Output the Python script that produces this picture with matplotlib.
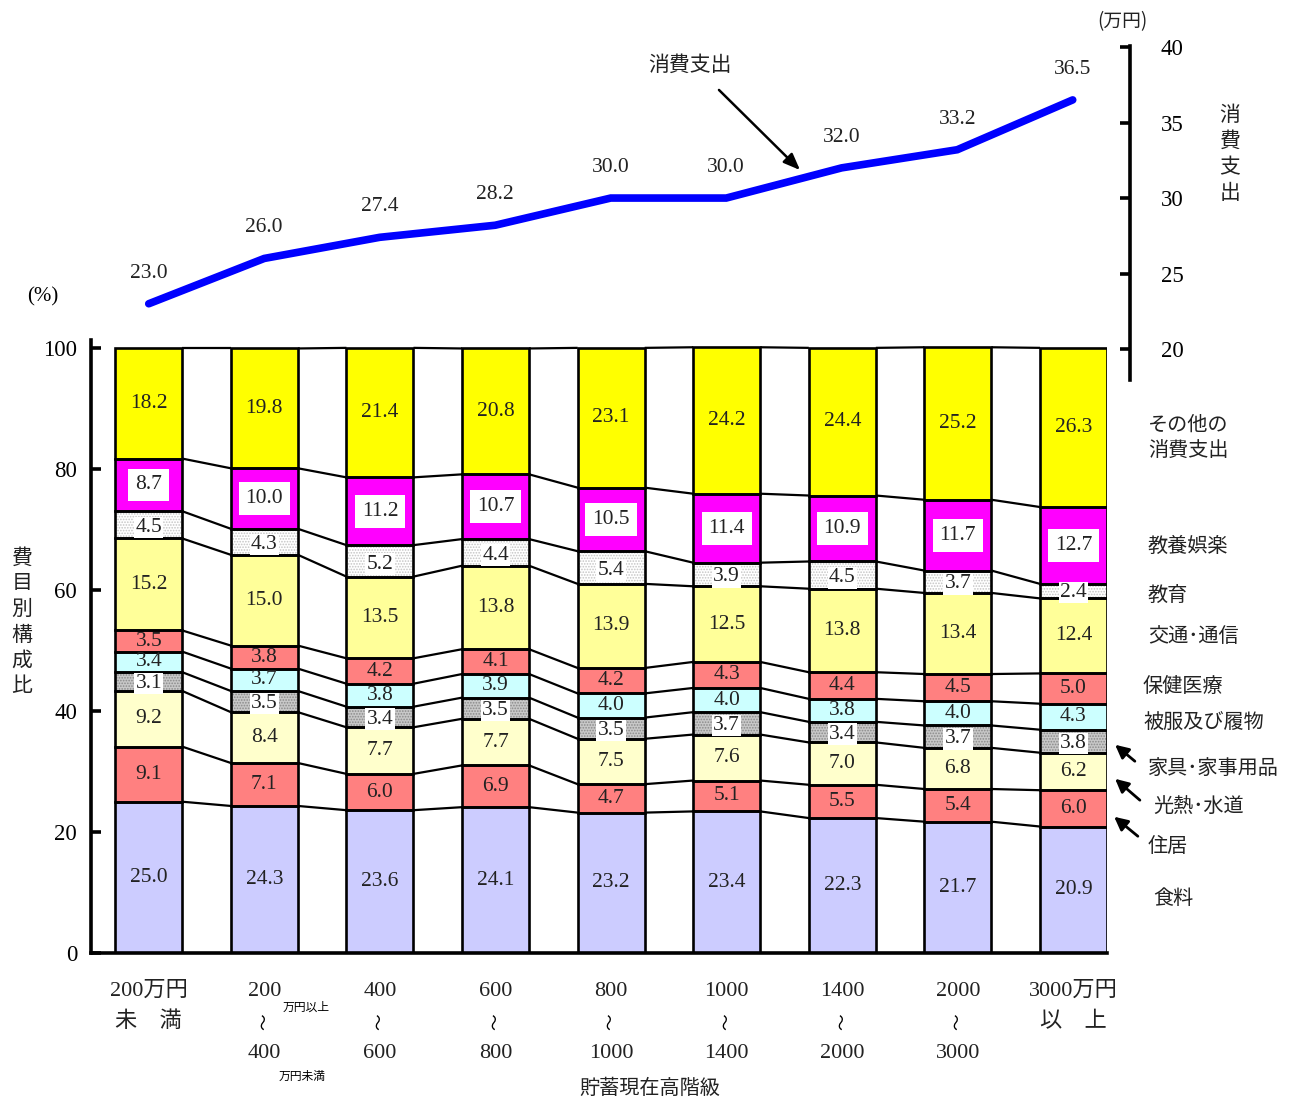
import matplotlib
matplotlib.use("Agg")
import matplotlib.pyplot as plt
import matplotlib.transforms as mtransforms
import numpy as np

W, H = 1303, 1101

# ---------------- data ----------------
categories = ["食料", "住居", "光熱･水道", "家具･家事用品", "被服及び履物",
              "保健医療", "交通･通信", "教育", "教養娯楽", "その他の\n消費支出"]

shokuryo   = [25.0, 24.3, 23.6, 24.1, 23.2, 23.4, 22.3, 21.7, 20.9]
jukyo      = [9.1, 7.1, 6.0, 6.9, 4.7, 5.1, 5.5, 5.4, 6.0]
konetsu    = [9.2, 8.4, 7.7, 7.7, 7.5, 7.6, 7.0, 6.8, 6.2]
kagu       = [3.1, 3.5, 3.4, 3.5, 3.5, 3.7, 3.4, 3.7, 3.8]
hifuku     = [3.4, 3.7, 3.8, 3.9, 4.0, 4.0, 3.8, 4.0, 4.3]
hoken      = [3.5, 3.8, 4.2, 4.1, 4.2, 4.3, 4.4, 4.5, 5.0]
kotsu      = [15.2, 15.0, 13.5, 13.8, 13.9, 12.5, 13.8, 13.4, 12.4]
kyoiku     = [4.5, 4.3, 5.2, 4.4, 5.4, 3.9, 4.5, 3.7, 2.4]
goraku     = [8.7, 10.0, 11.2, 10.7, 10.5, 11.4, 10.9, 11.7, 12.7]
sonota     = [18.2, 19.8, 21.4, 20.8, 23.1, 24.2, 24.4, 25.2, 26.3]

spending   = [23.0, 26.0, 27.4, 28.2, 30.0, 30.0, 32.0, 33.2, 36.5]

xlab_top = ["200万円", "200", "400", "600", "800", "1000", "1400", "2000", "3000万円"]
xlab_mid = ["未　満", "~", "~", "~", "~", "~", "~", "~", "以　上"]
xlab_bot = ["", "400", "600", "800", "1000", "1400", "2000", "3000", ""]

series = [shokuryo, jukyo, konetsu, kagu, hifuku, hoken, kotsu, kyoiku, goraku, sonota]
colors = ["#CCCCFF", "#FF8080", "#FFFFCC", "#C8C8C8", "#CCFFFF",
          "#FF8080", "#FFFF99", "#FFFFFF", "#FF00FF", "#FFFF00"]
hatches = [None, None, None, "......", None, None, None, "......", None, None]
hatch_colors = [None, None, None, "#8a8a8a", None, None, None, "#c4c4c4", None, None]

JP = ["Noto Sans CJK JP", "DejaVu Sans"]
NUM = ["Liberation Serif", "Noto Sans CJK JP", "DejaVu Sans"]

plt.rcParams["hatch.linewidth"] = 0.8

fig = plt.figure(figsize=(W / 100, H / 100), dpi=100)

def px_axes(l, t, r, b):
    return [l / W, 1 - b / H, (r - l) / W, (b - t) / H]

def fy(py):
    return 1 - py / H

# ---------------- bar axes ----------------
ax = fig.add_axes(px_axes(91, 340, 1107, 953))
n = len(shokuryo)
x = np.arange(n)
bw = 0.58
ax.set_xlim(-0.5, 8.29)
ax.set_ylim(0, 101.3)

data = np.array(series)
cum = np.vstack([np.zeros(n), np.cumsum(data, axis=0)])

for k, vals in enumerate(series):
    bottoms = cum[k]
    if hatches[k]:
        ax.bar(x, vals, bw, bottom=bottoms, color=colors[k], hatch=hatches[k],
               edgecolor=hatch_colors[k], linewidth=0, zorder=2)
    else:
        ax.bar(x, vals, bw, bottom=bottoms, color=colors[k], linewidth=0, zorder=2)
    ax.bar(x, vals, bw, bottom=bottoms, fill=False, edgecolor="black",
           linewidth=1.9, zorder=3)

# connector lines between bars
for k in range(1, len(series) + 1):
    for i in range(n - 1):
        ax.plot([x[i] + bw / 2, x[i + 1] - bw / 2], [cum[k][i], cum[k][i + 1]],
                color="black", lw=1.6, zorder=1, solid_capstyle="butt")

# value labels
for k, vals in enumerate(series):
    for i, v in enumerate(vals):
        yc = cum[k][i] + v / 2
        kw = dict(ha="center", va="center", fontsize=15.5, family=NUM,
                  color="#222222", zorder=5)
        if k == 8:
            kw["bbox"] = dict(boxstyle="square,pad=0.32", fc="white", ec="none")
        elif k in (3, 7):
            kw["bbox"] = dict(boxstyle="square,pad=0.06", fc="white", ec="none")
            yc = cum[k][i] + v * 0.40
        ax.text(x[i], yc, f"{v:.1f}", **kw)

for s in ["top", "right"]:
    ax.spines[s].set_visible(False)
ax.spines["left"].set_linewidth(2.6)
ax.spines["bottom"].set_linewidth(2.6)
ax.set_yticks([0, 20, 40, 60, 80, 100])
ax.set_yticklabels(["0", "20", "40", "60", "80", "100"], family=NUM, fontsize=16.5)
ax.tick_params(axis="y", direction="in", length=7, width=2.6, pad=10)
ax.set_xticks([])

# category labels (x in data coords, y in figure pixels)
trans = mtransforms.blended_transform_factory(ax.transData, fig.transFigure)
for i in range(n):
    ax.text(x[i], fy(991), xlab_top[i], transform=trans, ha="center", va="center",
            fontsize=16, family=NUM, clip_on=False, color="#222222")
    if xlab_mid[i] == "~":
        ax.text(x[i], fy(1022), "〜", transform=trans, ha="center", va="center",
                fontsize=12, family=JP, rotation=90, clip_on=False)
    else:
        ax.text(x[i], fy(1022), xlab_mid[i], transform=trans, ha="center", va="center",
                fontsize=16, family=NUM, clip_on=False, color="#222222")
    if xlab_bot[i]:
        ax.text(x[i], fy(1053), xlab_bot[i], transform=trans, ha="center", va="center",
                fontsize=16, family=NUM, clip_on=False, color="#222222")
ax.text(x[1] + 0.36, fy(1007), "万円以上", transform=trans, ha="center", va="center",
        fontsize=8.5, family=JP, clip_on=False)
ax.text(x[1] + 0.33, fy(1076), "万円未満", transform=trans, ha="center", va="center",
        fontsize=8.5, family=JP, clip_on=False)

fig.text(650 / W, fy(1088), "貯蓄現在高階級", ha="center", va="center", fontsize=14.5,
         family=JP, color="#222222")
fig.text(43 / W, fy(297), "(%)", ha="center", va="center", fontsize=15, family=NUM)
fig.text(22 / W, fy(622), "\n".join("費目別構成比"), ha="center", va="center",
         fontsize=15, family=JP, linespacing=1.22, color="#222222")

# legend labels on the right
legend_pos = [
    ("その他の\n消費支出", 1148, 438),
    ("教養娯楽", 1148, 546),
    ("教育", 1148, 595),
    ("交通･通信", 1148, 637),
    ("保健医療", 1143, 687),
    ("被服及び履物", 1143, 722),
    ("家具･家事用品", 1148, 768),
    ("光熱･水道", 1153, 806),
    ("住居", 1148, 846),
    ("食料", 1153, 898),
]
for txt, px, py in legend_pos:
    fig.text(px / W, fy(py), txt, ha="left", va="center", fontsize=14.5, family=JP,
             linespacing=1.25, color="#222222")

for (x0, y0, x1, y1) in [(1137, 763, 1113, 743), (1142, 802, 1113, 777), (1140, 838, 1112, 815)]:
    fig.add_artist(matplotlib.patches.FancyArrowPatch(
        (x0 / W, fy(y0)), (x1 / W, fy(y1)), transform=fig.transFigure,
        arrowstyle="-|>,head_length=8,head_width=4", mutation_scale=1,
        color="black", lw=2))

# ---------------- line axes ----------------
ax2 = fig.add_axes(px_axes(91, 46, 1130, 380))
ax2.patch.set_visible(False)
ax2.set_xlim(-0.5, 8.496)
ax2.set_ylim(17.95, 40.07)
ax2.plot(x, spending, color="#0000FF", lw=5.5, solid_capstyle="round",
         solid_joinstyle="miter", zorder=3)
for i, v in enumerate(spending):
    ax2.annotate(f"{v:.1f}", (x[i], v), xytext=(0, 22), textcoords="offset points",
                 ha="center", va="center", fontsize=15.5, family=NUM, color="#222222")
for s in ["top", "left", "bottom"]:
    ax2.spines[s].set_visible(False)
ax2.spines["right"].set_linewidth(2.6)
ax2.yaxis.tick_right()
ax2.set_yticks([20, 25, 30, 35, 40])
ax2.set_yticklabels(["20", "25", "30", "35", "40"], family=NUM, fontsize=16.5)
ax2.tick_params(axis="y", direction="in", length=7, width=2.6, pad=22)
ax2.set_xticks([])

fig.text(1122 / W, fy(22), "(万円)", ha="center", va="center", fontsize=13.5, family=JP,
         color="#222222")
fig.text(1230 / W, fy(154), "\n".join("消費支出"), ha="center", va="center",
         fontsize=15, family=JP, linespacing=1.22, color="#222222")
fig.text(690 / W, fy(65), "消費支出", ha="center", va="center", fontsize=15, family=JP,
         color="#222222")
fig.add_artist(matplotlib.patches.FancyArrowPatch(
    (717 / W, fy(88)), (802 / W, fy(172)), transform=fig.transFigure,
    arrowstyle="-|>,head_length=10,head_width=4", mutation_scale=1,
    color="black", lw=1.8))

fig.savefig("out.png", dpi=100)
